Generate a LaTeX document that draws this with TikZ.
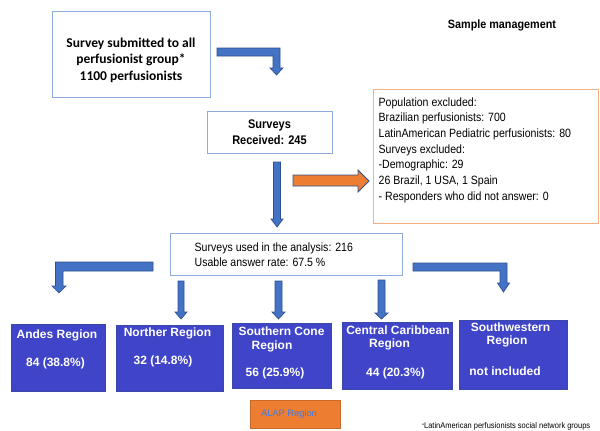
\documentclass[tikz,border=0pt]{standalone}
\usepackage{fontspec}
\setmainfont{Liberation Sans}
\newfontfamily\carlfont{Carlito}
\newfontfamily\narrA[FakeStretch=0.88]{Liberation Sans}
\newfontfamily\narrB[FakeStretch=0.9]{Liberation Sans}
\definecolor{arrblue}{HTML}{4472C4}
\definecolor{arredge}{HTML}{2F528F}
\definecolor{boxedge}{HTML}{8FAADC}
\definecolor{regblue}{HTML}{3F44C8}
\definecolor{regedge}{HTML}{3A48A8}
\definecolor{orng}{HTML}{ED7D31}
\definecolor{orngedge}{HTML}{F4B183}
\definecolor{alaptext}{HTML}{3F7BE0}
\tikzset{
  whitebox/.style={draw=boxedge, line width=0.9pt, fill=white, inner sep=0pt},
  regbox/.style={draw=regedge, line width=0.6pt, fill=regblue, inner sep=0pt},
  regtext/.style={text=white, font=\fontsize{12}{14}\selectfont\bfseries, inner sep=0pt},
  blockarrow/.style={fill=arrblue, draw=arredge, line width=0.7pt, line join=miter},
}
\begin{document}
\begin{tikzpicture}[x=1pt,y=-1pt]
\useasboundingbox (0,0) rectangle (600,431);
\fill[white] (0,0) rectangle (600,431);

% title
\node[inner sep=0pt, font=\narrB\fontsize{12}{14}\selectfont\bfseries] (title) at (502,25) {Sample management};

% box 1
\node[whitebox, minimum width=158pt, minimum height=86pt] (b1) at (131,54) {};
\node[inner sep=0pt, align=center, font=\carlfont\fontsize{13.5}{16.5}\selectfont\bfseries] (b1t) at (131,60)
  {Survey submitted to all\\perfusionist group*\\1100 perfusionists};

% box 2
\node[whitebox, minimum width=125pt, minimum height=42pt] (b2) at (269.5,132) {};
\node[inner sep=0pt, align=center, font=\narrA\fontsize{12.5}{16}\selectfont\bfseries] (b2t) at (269.5,132)
  {Surveys\\Received: 245};

% orange exclusion box
\node[draw=orngedge, line width=0.9pt, fill=white, minimum width=225pt, minimum height=134pt, inner sep=0pt] (ex) at (485.5,156) {};
\node[anchor=west, inner sep=0pt, align=left, font=\narrA\fontsize{12}{15.67}\selectfont] (ext) at (378.5,150)
  {Population excluded:\\Brazilian perfusionists: 700\\LatinAmerican Pediatric perfusionists: 80\\Surveys excluded:\\-Demographic: 29\\26 Brazil, 1 USA, 1 Spain\\- Responders who did not answer: 0};

% box 3
\node[whitebox, minimum width=232pt, minimum height=42pt] (b3) at (286,254) {};
\node[anchor=west, inner sep=0pt, align=left, font=\narrA\fontsize{12}{15}\selectfont] (b3t) at (194.5,254.5)
  {Surveys used in the analysis: 216\\Usable answer rate: 67.5 \%};

% region boxes
\node[regbox, minimum width=94pt, minimum height=67pt] (r1) at (58,357.5) {};
\node[regtext] (r1a) at (57,335) {Andes Region};
\node[regtext] (r1b) at (55.5,363) {84 (38.8\%)};

\node[regbox, minimum width=107pt, minimum height=66pt] (r2) at (169.5,358) {};
\node[regtext] (r2a) at (167.5,333) {Norther Region};
\node[regtext] (r2b) at (163,361) {32 (14.8\%)};

\node[regbox, minimum width=99pt, minimum height=65pt] (r3) at (281.5,355.5) {};
\node[regtext] (r3a) at (281.5,331) {Southern Cone};
\node[regtext] (r3b) at (272,346) {Region};
\node[regtext] (r3c) at (275,373) {56 (25.9\%)};

\node[regbox, minimum width=110pt, minimum height=67pt] (r4) at (397,355.5) {};
\node[regtext] (r4a) at (398,330) {Central Caribbean};
\node[regtext] (r4b) at (389.5,344) {Region};
\node[regtext] (r4c) at (395.5,373) {44 (20.3\%)};

\node[regbox, minimum width=108pt, minimum height=69pt] (r5) at (513,354.5) {};
\node[regtext] (r5a) at (510.5,327) {Southwestern};
\node[regtext] (r5b) at (507,341) {Region};
\node[regtext] (r5c) at (505,371) {not included};

% ALAP
\node[fill=orng, draw=orng!85!black, line width=0.4pt, minimum width=90pt, minimum height=28pt, inner sep=0pt] (alap) at (295,414) {};
\node[inner sep=0pt, text=alaptext, font=\fontsize{9.3}{11}\selectfont] (alapt) at (289,414) {ALAP Region};

% footnote
\node[anchor=west, inner sep=0pt, font=\narrB\fontsize{8.3}{9}\selectfont] (fn) at (422,426.5)
  {\raisebox{0.35ex}{\fontsize{5.5}{6}\selectfont *}LatinAmerican perfusionists social network groups};

% block arrows
\draw[blockarrow] (217,48) -- (280,48) -- (280,68) -- (283,68) -- (276.5,75) -- (270,68) -- (273,68) -- (273,56) -- (217,56) -- cycle;
\draw[blockarrow] (273.5,162) -- (280.5,162) -- (280.5,219) -- (283,219) -- (277,227) -- (271,219) -- (273.5,219) -- cycle;
\draw[fill=orng, draw=arredge, line width=0.8pt, line join=miter] (293,175) -- (358,175) -- (358,170) -- (369,181) -- (358,192) -- (358,186) -- (293,186) -- cycle;
\draw[blockarrow] (153,262) -- (55.5,262) -- (55.5,286) -- (52,286) -- (59,293) -- (66,286) -- (63,286) -- (63,271) -- (153,271) -- cycle;
\draw[blockarrow] (178,281) -- (184,281) -- (184,312) -- (187,312) -- (181,319) -- (175,312) -- (178,312) -- cycle;
\draw[blockarrow] (275,281) -- (282,281) -- (282,312) -- (285,312) -- (278.5,319) -- (272,312) -- (275,312) -- cycle;
\draw[blockarrow] (378,280) -- (385,280) -- (385,313) -- (388,313) -- (381.5,319) -- (375,313) -- (378,313) -- cycle;
\draw[blockarrow] (413,263) -- (507,263) -- (507,283) -- (509.5,283) -- (503.5,292) -- (497.5,283) -- (500,283) -- (500,271) -- (413,271) -- cycle;
\end{tikzpicture}
\end{document}
